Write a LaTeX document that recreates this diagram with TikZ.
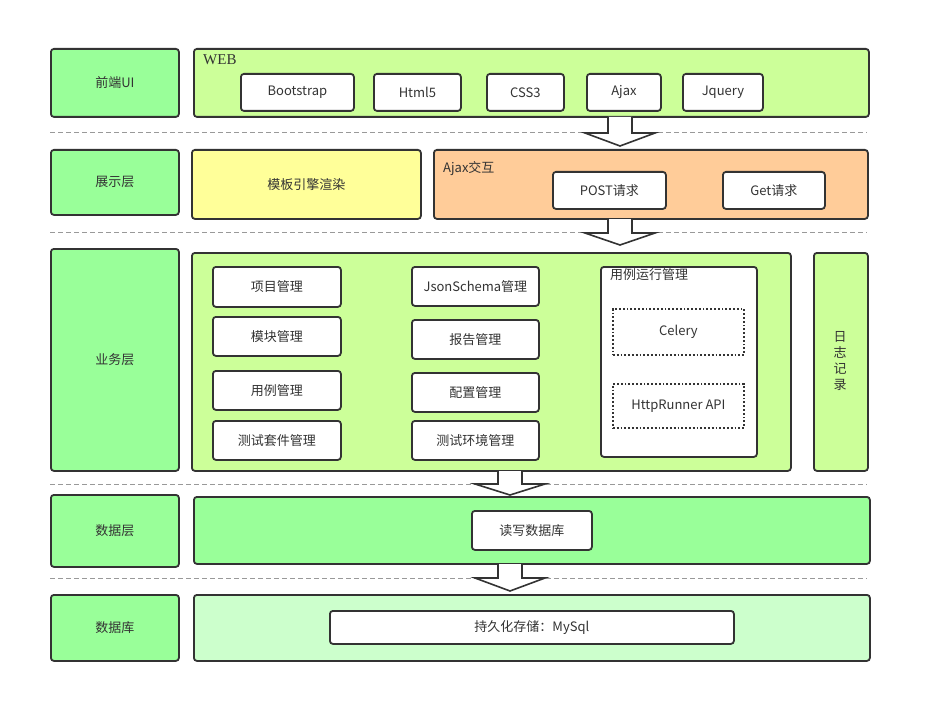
\documentclass[tikz,border=0pt]{standalone}
\usepackage{fontspec}
\setmainfont{Noto Sans CJK SC}
\newfontfamily\webfont{Liberation Serif}
\usetikzlibrary{calc}
\definecolor{edge}{HTML}{333333}
\definecolor{txt}{HTML}{333333}
\definecolor{lblgreen}{HTML}{99FF99}
\definecolor{webgreen}{HTML}{CCFF99}
\definecolor{yel}{HTML}{FFFF99}
\definecolor{org}{HTML}{FFCC99}
\definecolor{pale}{HTML}{CCFFCC}
\definecolor{sep}{HTML}{999999}
\tikzset{
  box/.style={draw=edge, line width=1.8pt, rounded corners=3pt, inner sep=0pt, anchor=north west, font=\fontsize{13}{16}\selectfont, text=txt},
  lbl/.style={box, fill=lblgreen},
  wbox/.style={box, fill=white},
  dotbox/.style={draw=edge, line width=1.8pt, dotted, inner sep=0pt, anchor=north west, fill=white, font=\fontsize{13}{16}\selectfont, text=txt},
  plain/.style={inner sep=0pt, font=\fontsize{13}{16}\selectfont, text=txt},
  sepline/.style={draw=sep, line width=0.8pt, dash pattern=on 5pt off 3pt},
  barrow/.style={draw=edge, line width=1.6pt, fill=white, line join=miter}
}
\newcommand\blockarr[4]{%
  \draw[barrow] (#1-12,#2) -- (#1-12,#3) -- (#1-35,#3) -- (#1,#4) -- (#1+35,#3) -- (#1+12,#3) -- (#1+12,#2);}
\begin{document}
\begin{tikzpicture}[x=1pt,y=-1pt]
\useasboundingbox[fill=white] (0,0) rectangle (931,722);

% separators
\draw[sepline] (50,132) -- (867,132);
\draw[sepline] (50,232) -- (867,232);
\draw[sepline] (50,484) -- (867,484);
\draw[sepline] (50,578) -- (867,578);

% left labels
\node[lbl, minimum width=128, minimum height=68] (l1) at (50,48) {前端UI};
\node[lbl, minimum width=128, minimum height=65] (l2) at (50,149) {展示层};
\node[lbl, minimum width=128, minimum height=222] (l3) at (50,248) {业务层};
\node[lbl, minimum width=128, minimum height=72] (l4) at (50,494) {数据层};
\node[lbl, minimum width=128, minimum height=66] (l5) at (50,594) {数据库};

% row 1
\node[box, fill=webgreen, minimum width=675, minimum height=68] (web) at (193,48) {};
\node[plain, anchor=west, text=edge] (webt) at (203,60) {\webfont\fontsize{15}{16}\selectfont WEB};
\node[wbox, minimum width=113, minimum height=37] (bs) at (240,73) {Bootstrap};
\node[wbox, minimum width=87, minimum height=37] (h5) at (373,73) {Html5};
\node[wbox, minimum width=77, minimum height=37] (css) at (486,73) {CSS3};
\node[wbox, minimum width=74, minimum height=37] (ajx) at (586,73) {Ajax};
\node[wbox, minimum width=80, minimum height=37] (jq) at (682,73) {Jquery};

% row 2
\node[box, fill=yel, minimum width=229, minimum height=69] (tpl) at (191,149) {模板引擎渲染};
\node[box, fill=org, minimum width=434, minimum height=69] (ajaxbox) at (433,149) {};
\node[plain, anchor=west] (ajaxt) at (443,169) {Ajax交互};
\node[wbox, minimum width=113, minimum height=37] (post) at (552,171) {POST请求};
\node[wbox, minimum width=102, minimum height=37] (get) at (722,171) {Get请求};

% row 3
\node[box, fill=webgreen, minimum width=599, minimum height=218] (biz) at (191,252) {};
\node[wbox, minimum width=128, minimum height=40] (xm) at (212,266) {项目管理};
\node[wbox, minimum width=128, minimum height=39] (mk) at (212,316) {模块管理};
\node[wbox, minimum width=128, minimum height=39] (yl) at (212,370) {用例管理};
\node[wbox, minimum width=128, minimum height=39] (tj) at (212,420) {测试套件管理};
\node[wbox, minimum width=127, minimum height=39] (js) at (411,266) {JsonSchema管理};
\node[wbox, minimum width=127, minimum height=39] (bg) at (411,319) {报告管理};
\node[wbox, minimum width=127, minimum height=39] (pz) at (411,372) {配置管理};
\node[wbox, minimum width=127, minimum height=39] (hj) at (411,420) {测试环境管理};
\node[wbox, minimum width=156, minimum height=190] (run) at (600,266) {};
\node[plain, anchor=west] (runt) at (610,275) {用例运行管理};
\node[dotbox, minimum width=131, minimum height=46] (cel) at (612,308) {Celery};
\node[dotbox, minimum width=131, minimum height=44] (hr) at (612,383) {HttpRunner API};
\node[box, fill=webgreen, minimum width=54, minimum height=218] (log) at (813,252) {};
\node[plain, align=center, font=\fontsize{13}{15.7}\selectfont] (logt) at (840,361) {日\\志\\记\\录};

% row 4
\node[box, fill=lblgreen, minimum width=676, minimum height=67] (data) at (193,496) {};
\node[wbox, minimum width=120, minimum height=39] (rw) at (471,510) {读写数据库};

% row 5
\node[box, fill=pale, minimum width=676, minimum height=66] (db) at (193,594) {};
\node[wbox, minimum width=404, minimum height=33] (ms) at (329,610) {持久化存储：MySql};

% block arrows
\blockarr{620}{117}{133}{146}
\blockarr{620}{219}{233}{245}
\blockarr{510}{471}{484}{495}
\blockarr{510}{564}{578}{591}
\end{tikzpicture}
\end{document}
